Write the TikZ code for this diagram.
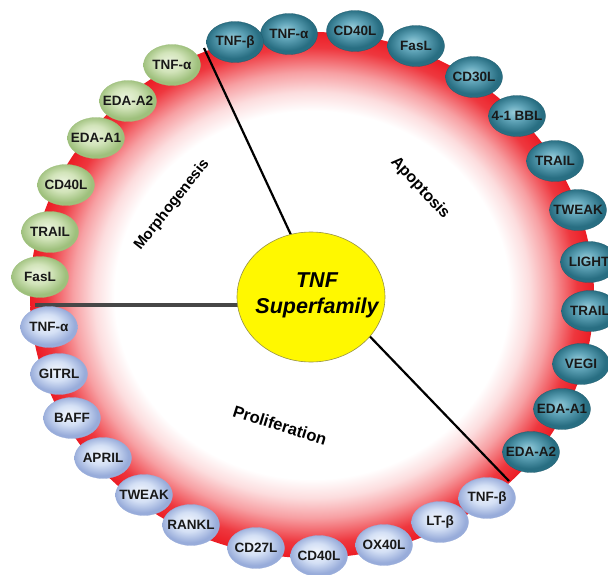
\documentclass[tikz,border=0pt]{standalone}
\usepackage{fontspec}
\setmainfont{Liberation Sans}
\usetikzlibrary{shapes.geometric}
\definecolor{ringred}{RGB}{236,28,36}
\definecolor{tealA}{RGB}{150,204,218}
\definecolor{tealB}{RGB}{96,164,184}
\definecolor{tealC}{RGB}{40,110,130}
\definecolor{grA}{RGB}{234,243,220}
\definecolor{grB}{RGB}{210,228,186}
\definecolor{grC}{RGB}{158,192,124}
\definecolor{blA}{RGB}{242,246,253}
\definecolor{blB}{RGB}{212,224,245}
\definecolor{blC}{RGB}{152,172,218}
\definecolor{coreyellow}{RGB}{255,248,0}
\definecolor{coreedge}{RGB}{150,145,70}
\pgfdeclareradialshading{tealball}{\pgfpoint{-3bp}{5bp}}{color(0bp)=(tealA); color(10bp)=(tealB); color(23bp)=(tealC); color(50bp)=(tealC)}
\pgfdeclareradialshading{greenball}{\pgfpoint{-3bp}{5bp}}{color(0bp)=(grA); color(12bp)=(grB); color(24bp)=(grC); color(50bp)=(grC)}
\pgfdeclareradialshading{blueball}{\pgfpoint{-3bp}{5bp}}{color(0bp)=(blA); color(12bp)=(blB); color(24bp)=(blC); color(50bp)=(blC)}
\pgfdeclareradialshading{ringshade}{\pgfpoint{0bp}{0bp}}{color(0bp)=(white); color(17.5bp)=(white); color(19.3bp)=(ringred!15!white); color(21.2bp)=(ringred!42!white); color(23.5bp)=(ringred!88!white); color(25bp)=(ringred); color(50bp)=(ringred)}
\newcommand\lgname[1]{\makebox[0pt]{#1}}
\tikzset{
  lig/.style={ellipse, minimum width=57pt, minimum height=41pt, inner sep=0pt,
    font=\fontsize{13.5}{14}\selectfont\bfseries, text=black!90, line width=0.3pt},
  apo/.style={lig, shading=tealball, draw=tealC!85!black},
  mor/.style={lig, shading=greenball, draw=grC},
  pro/.style={lig, shading=blueball, draw=blC},
  spoke/.style={line width=2.2pt, black},
  hspoke/.style={line width=3.5pt, black!72},
  core/.style={ellipse, minimum width=148pt, minimum height=130pt, inner sep=0pt,
    fill=coreyellow, draw=coreedge, line width=0.6pt},
  coretext/.style={align=center, font=\fontsize{21.5}{26}\selectfont\bfseries\itshape, inner sep=0pt},
  group/.style={inner sep=0pt}
}
\begin{document}
\begin{tikzpicture}[x=1pt,y=-1pt]
\useasboundingbox (0,0) rectangle (608,575);
\clip (0,0) rectangle (608,575);
\fill[white] (0,0) rectangle (608,575);
% red ring
\shade[shading=ringshade] (312,295) ellipse [x radius=282pt, y radius=263pt];
% spokes
\coordinate (m1) at (204,48);
\coordinate (m2) at (35,305);
\coordinate (m3) at (509,481);
\coordinate (i1) at (305,265);
\coordinate (i2) at (262,305);
\coordinate (i3) at (355,321);
\draw[spoke] (m1) -- (i1);
\draw[hspoke] (m2) -- (i2);
\draw[spoke] (m3) -- (i3);
% centre
\node[core] (core) at (311,297) {};
\node[coretext] (coretxt) at (317,295) {TNF\\Superfamily};
% morphogenesis
\node[mor] (g6) at (40,277) {\lgname{FasL}};
\node[mor] (g5) at (50,232) {\lgname{TRAIL}};
\node[mor] (g4) at (66,185) {\lgname{CD40L}};
\node[mor] (g3) at (96,138) {\lgname{EDA-A1}};
\node[mor] (g2) at (128,101) {\lgname{EDA-A2}};
\node[mor] (g1) at (172,65) {\lgname{TNF-α}};
% apoptosis
\node[apo] (a2) at (289,34) {\lgname{TNF-α}};
\node[apo] (a1) at (235,42) {\lgname{TNF-β}};
\node[apo] (a3) at (355,31) {\lgname{CD40L}};
\node[apo] (a4) at (416,46) {\lgname{FasL}};
\node[apo] (a5) at (474,77) {\lgname{CD30L}};
\node[apo] (a6) at (517,116) {\lgname{4-1 BBL}};
\node[apo] (a7) at (555,161) {\lgname{TRAIL}};
\node[apo] (a8) at (578,210) {\lgname{TWEAK}};
\node[apo] (a9) at (589,262) {\lgname{LIGHT}};
\node[apo] (a10) at (590,311) {\lgname{TRAIL}};
\node[apo] (a11) at (581,364) {\lgname{VEGI}};
\node[apo] (a12) at (562,409) {\lgname{EDA-A1}};
\node[apo] (a13) at (531,452) {\lgname{EDA-A2}};
% proliferation
\node[pro] (p1) at (49,327) {\lgname{TNF-α}};
\node[pro] (p2) at (59,374) {\lgname{GITRL}};
\node[pro] (p3) at (72,418) {\lgname{BAFF}};
\node[pro] (p4) at (103,458) {\lgname{APRIL}};
\node[pro] (p5) at (144,495) {\lgname{TWEAK}};
\node[pro] (p6) at (191,525) {\lgname{RANKL}};
\node[pro] (p7) at (256,548) {\lgname{CD27L}};
\node[pro] (p8) at (319,556) {\lgname{CD40L}};
\node[pro] (p9) at (384,545) {\lgname{OX40L}};
\node[pro] (p10) at (440,522) {\lgname{LT-β}};
\node[pro] (p11) at (487,498) {\lgname{TNF-β}};
% group labels
\node[group, rotate=51.6, font=\fontsize{15}{16}\selectfont\bfseries] (lm) at (172,205) {Morphogenesis};
\node[group, rotate=-47, font=\fontsize{16}{17}\selectfont\bfseries] (la) at (420,188) {Apoptosis};
\node[group, rotate=-17.5, font=\fontsize{16.5}{17}\selectfont\bfseries] (lp) at (280,425) {Proliferation};
\end{tikzpicture}
\end{document}
